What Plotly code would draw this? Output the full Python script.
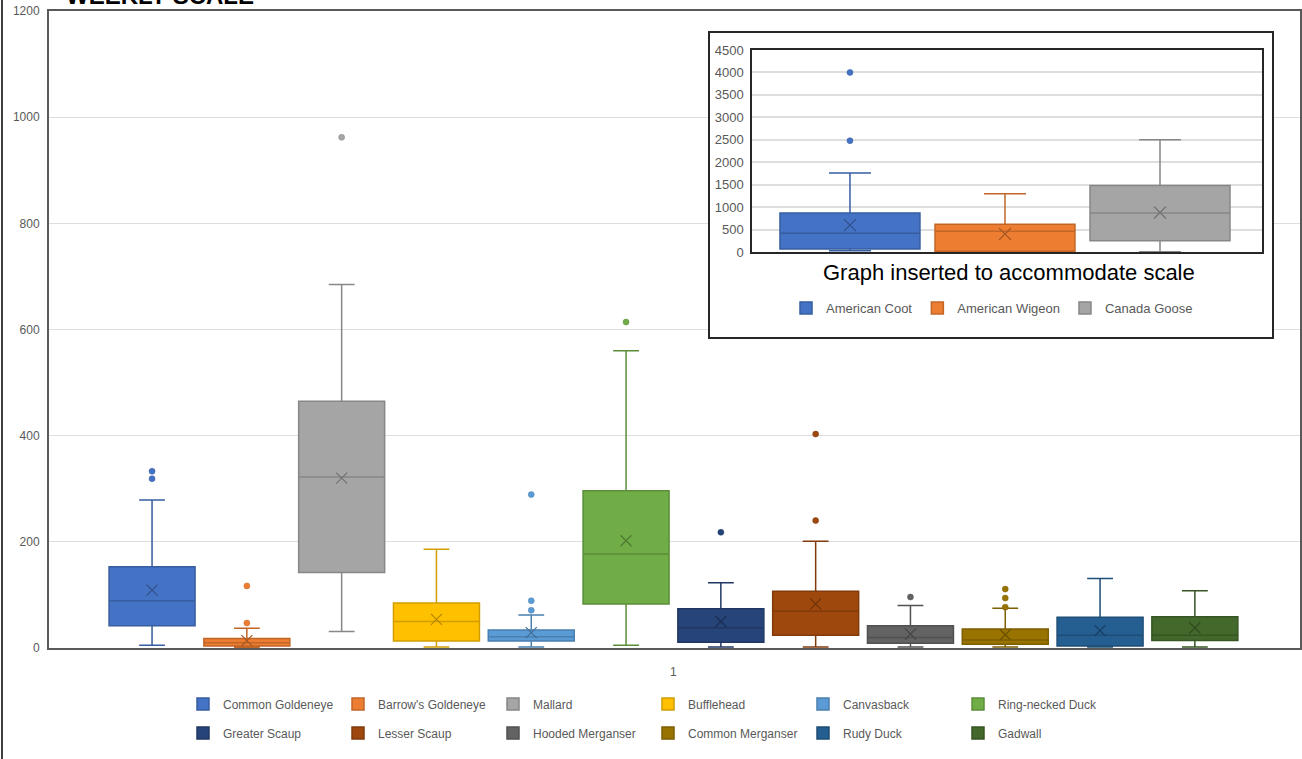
import plotly.graph_objects as go

# ---------------- data (main chart) ----------------
species = ["Common Goldeneye", "Barrow's Goldeneye", "Mallard", "Bufflehead", "Canvasback",
           "Ring-necked Duck", "Greater Scaup", "Lesser Scaup", "Hooded Merganser",
           "Common Merganser", "Rudy Duck", "Gadwall"]
q1 = [42, 4, 142, 13, 13, 83, 11, 24, 9, 7, 4, 14]
median = [89, 10, 322, 50, 21, 177, 38, 69, 20, 15, 24, 24]
q3 = [153, 18, 465, 85, 34, 296, 74, 107, 42, 36, 58, 59]
lower = [5, 1, 31, 2, 2, 5, 2, 2, 2, 2, 2, 2]
upper = [279, 37, 685, 186, 62, 560, 123, 201, 80, 75, 131, 108]
mean = [109, 14, 320, 54, 29, 202, 50, 83, 26, 25, 33, 38]
outliers = [[319, 333], [47, 117], [962], [], [71, 89, 289], [614], [218], [240, 403],
            [96], [77, 94, 111], [], []]
colors = ["#4472C4", "#ED7D31", "#A5A5A5", "#FFC000", "#5B9BD5", "#70AD47",
          "#264478", "#9E480E", "#636363", "#997300", "#255E91", "#43682B"]
x_tick_labels = ["1"]

# ---------------- data (inset chart) ----------------
ins_species = ["American Coot", "American Wigeon", "Canada Goose"]
ins_q1 = [67, 15, 250]
ins_median = [415, 460, 870]
ins_q3 = [870, 620, 1480]
ins_lower = [29, 0, 5]
ins_upper = [1760, 1300, 2500]
ins_mean = [600, 400, 880]
ins_outliers = [[2480, 4000], [], []]
ins_colors = ["#4472C4", "#ED7D31", "#A5A5A5"]
ins_title = "Graph inserted to accommodate scale"
top_title = "WEEKLY SCALE"


def darken(hx, f=0.82):
    hx = hx.lstrip("#")
    r, g, b = (int(hx[i:i + 2], 16) for i in (0, 2, 4))
    return "#%02x%02x%02x" % (int(r * f), int(g * f), int(b * f))


FONT = "Liberation Sans, Arial, sans-serif"
GRAY = "#595959"
W, H = 1302, 759


def fx(xp):
    return xp / W


def fy(yp):
    return 1 - yp / H


fig = go.Figure()

# main boxes
for i, name in enumerate(species):
    lc = darken(colors[i])
    fig.add_trace(go.Box(
        x=[i], q1=[q1[i]], median=[median[i]], q3=[q3[i]],
        lowerfence=[lower[i]], upperfence=[upper[i]],
        name=name, fillcolor=colors[i], line=dict(color=lc, width=1.5),
        width=0.907, whiskerwidth=0.3, boxpoints=False,
        legend="legend" if i < 6 else "legend2", xaxis="x", yaxis="y",
        hoverinfo="skip"))
for i, name in enumerate(species):
    lc = darken(colors[i])
    if outliers[i]:
        fig.add_trace(go.Scatter(
            x=[i] * len(outliers[i]), y=outliers[i], mode="markers",
            marker=dict(color=colors[i], size=6, line=dict(color=lc, width=0.5)),
            showlegend=False, xaxis="x", yaxis="y", hoverinfo="skip"))
    fig.add_trace(go.Scatter(
        x=[i], y=[mean[i]], mode="markers",
        marker=dict(symbol="x-thin", size=11, line=dict(color=darken(colors[i], 0.7), width=1.2)),
        showlegend=False, xaxis="x", yaxis="y", hoverinfo="skip"))

# empty trace so the inset background/frame subplot (x2/y2) exists
fig.add_trace(go.Scatter(x=[], y=[], xaxis="x2", yaxis="y2", showlegend=False,
                         hoverinfo="skip"))

# inset boxes (subplot x3/y3)
for i, name in enumerate(ins_species):
    lc = darken(ins_colors[i])
    fig.add_trace(go.Box(
        x=[i], q1=[ins_q1[i]], median=[ins_median[i]], q3=[ins_q3[i]],
        lowerfence=[ins_lower[i]], upperfence=[ins_upper[i]],
        name=name, fillcolor=ins_colors[i], line=dict(color=lc, width=1.5),
        width=0.903, whiskerwidth=0.3, boxpoints=False,
        legend="legend3", xaxis="x3", yaxis="y3", hoverinfo="skip"))
for i, name in enumerate(ins_species):
    lc = darken(ins_colors[i])
    if ins_outliers[i]:
        fig.add_trace(go.Scatter(
            x=[i] * len(ins_outliers[i]), y=ins_outliers[i], mode="markers",
            marker=dict(color=ins_colors[i], size=6, line=dict(color=lc, width=0.5)),
            showlegend=False, xaxis="x3", yaxis="y3", hoverinfo="skip"))
    fig.add_trace(go.Scatter(
        x=[i], y=[ins_mean[i]], mode="markers",
        marker=dict(symbol="x-thin", size=12, line=dict(color=darken(ins_colors[i], 0.7), width=1.2)),
        showlegend=False, xaxis="x3", yaxis="y3", hoverinfo="skip"))

legend_common = dict(orientation="h", font=dict(family=FONT, size=12, color=GRAY),
                     bgcolor="rgba(0,0,0,0)", xanchor="left", yanchor="middle",
                     entrywidth=110, entrywidthmode="pixels", tracegroupgap=0,
                     borderwidth=0)

fig.update_layout(
    width=W, height=H,
    margin=dict(l=0, r=0, t=0, b=0, autoexpand=False),
    paper_bgcolor="white", plot_bgcolor="white",
    font=dict(family=FONT, color=GRAY),
    showlegend=True,
    xaxis=dict(domain=[fx(49), fx(1300)], anchor="y", range=[-1.087, 12.109], tickvals=[5.5],
               ticktext=x_tick_labels, showgrid=False, zeroline=False, showline=True,
               mirror=True, linecolor=GRAY, linewidth=2, ticks="", ticklabelstandoff=12,
               tickfont=dict(family=FONT, size=12, color=GRAY), fixedrange=True,
               automargin=False),
    yaxis=dict(domain=[fy(648), fy(11)], anchor="x", range=[0, 1200], dtick=200,
               showgrid=True, gridcolor="#DEDEDE", gridwidth=1, zeroline=False,
               showline=True, mirror=True, linecolor=GRAY, linewidth=2, ticks="",
               ticklabelstandoff=5, tickfont=dict(family=FONT, size=12, color=GRAY),
               fixedrange=True, automargin=False),
    # outer frame of the inset (background subplot)
    xaxis2=dict(domain=[fx(710), fx(1272)], anchor="y2", range=[0, 1], showgrid=False,
                zeroline=False, showticklabels=False, ticks="", showline=True, mirror=True,
                linecolor="#262626", linewidth=2, fixedrange=True, automargin=False),
    yaxis2=dict(domain=[fy(337), fy(33)], anchor="x2", range=[0, 1], showgrid=False,
                zeroline=False, showticklabels=False, ticks="", showline=True, mirror=True,
                linecolor="#262626", linewidth=2, fixedrange=True, automargin=False),
    # inset plot area
    xaxis3=dict(domain=[fx(752), fx(1262)], anchor="y3", range=[-0.632, 2.658], showgrid=False,
                zeroline=False, showticklabels=False, ticks="", showline=True, mirror=True,
                linecolor="#262626", linewidth=1.5, fixedrange=True, automargin=False),
    yaxis3=dict(domain=[fy(252), fy(50)], anchor="x3", range=[0, 4500], dtick=500,
                showgrid=True, gridcolor="#DEDEDE", gridwidth=1.5, zeroline=False,
                showline=True, mirror=True, linecolor="#262626", linewidth=1.5, ticks="",
                ticklabelstandoff=4, tickfont=dict(family=FONT, size=13, color=GRAY),
                fixedrange=True, automargin=False),
    legend=dict(x=fx(183), y=fy(704), **legend_common),
    legend2=dict(x=fx(183), y=fy(733), **legend_common),
    legend3=dict(x=fx(786), y=fy(308), orientation="h", xanchor="left", yanchor="middle",
                 font=dict(family=FONT, size=13, color=GRAY), bgcolor="rgba(0,0,0,0)",
                 borderwidth=0),
    annotations=[
        dict(text=ins_title, xref="paper", yref="paper", x=fx(1009), y=fy(272),
             xanchor="center", yanchor="middle", showarrow=False,
             font=dict(family=FONT, size=22, color="black")),
        dict(text="<b>" + top_title + "</b>", xref="paper", yref="paper", x=fx(64), y=fy(11),
             xanchor="left", yanchor="bottom", showarrow=False,
             font=dict(family=FONT, size=24, color="black")),
    ],
    shapes=[
        dict(type="line", xref="paper", yref="paper", x0=fx(2), x1=fx(2), y0=0, y1=1,
             line=dict(color="#404040", width=2)),
    ],
)

fig.write_html(
    "out.html",
    config={"displayModeBar": False},
    post_script=("document.body.style.margin='0';"
                 "document.body.style.overflow='hidden';"
                 "document.documentElement.style.overflow='hidden';"))
